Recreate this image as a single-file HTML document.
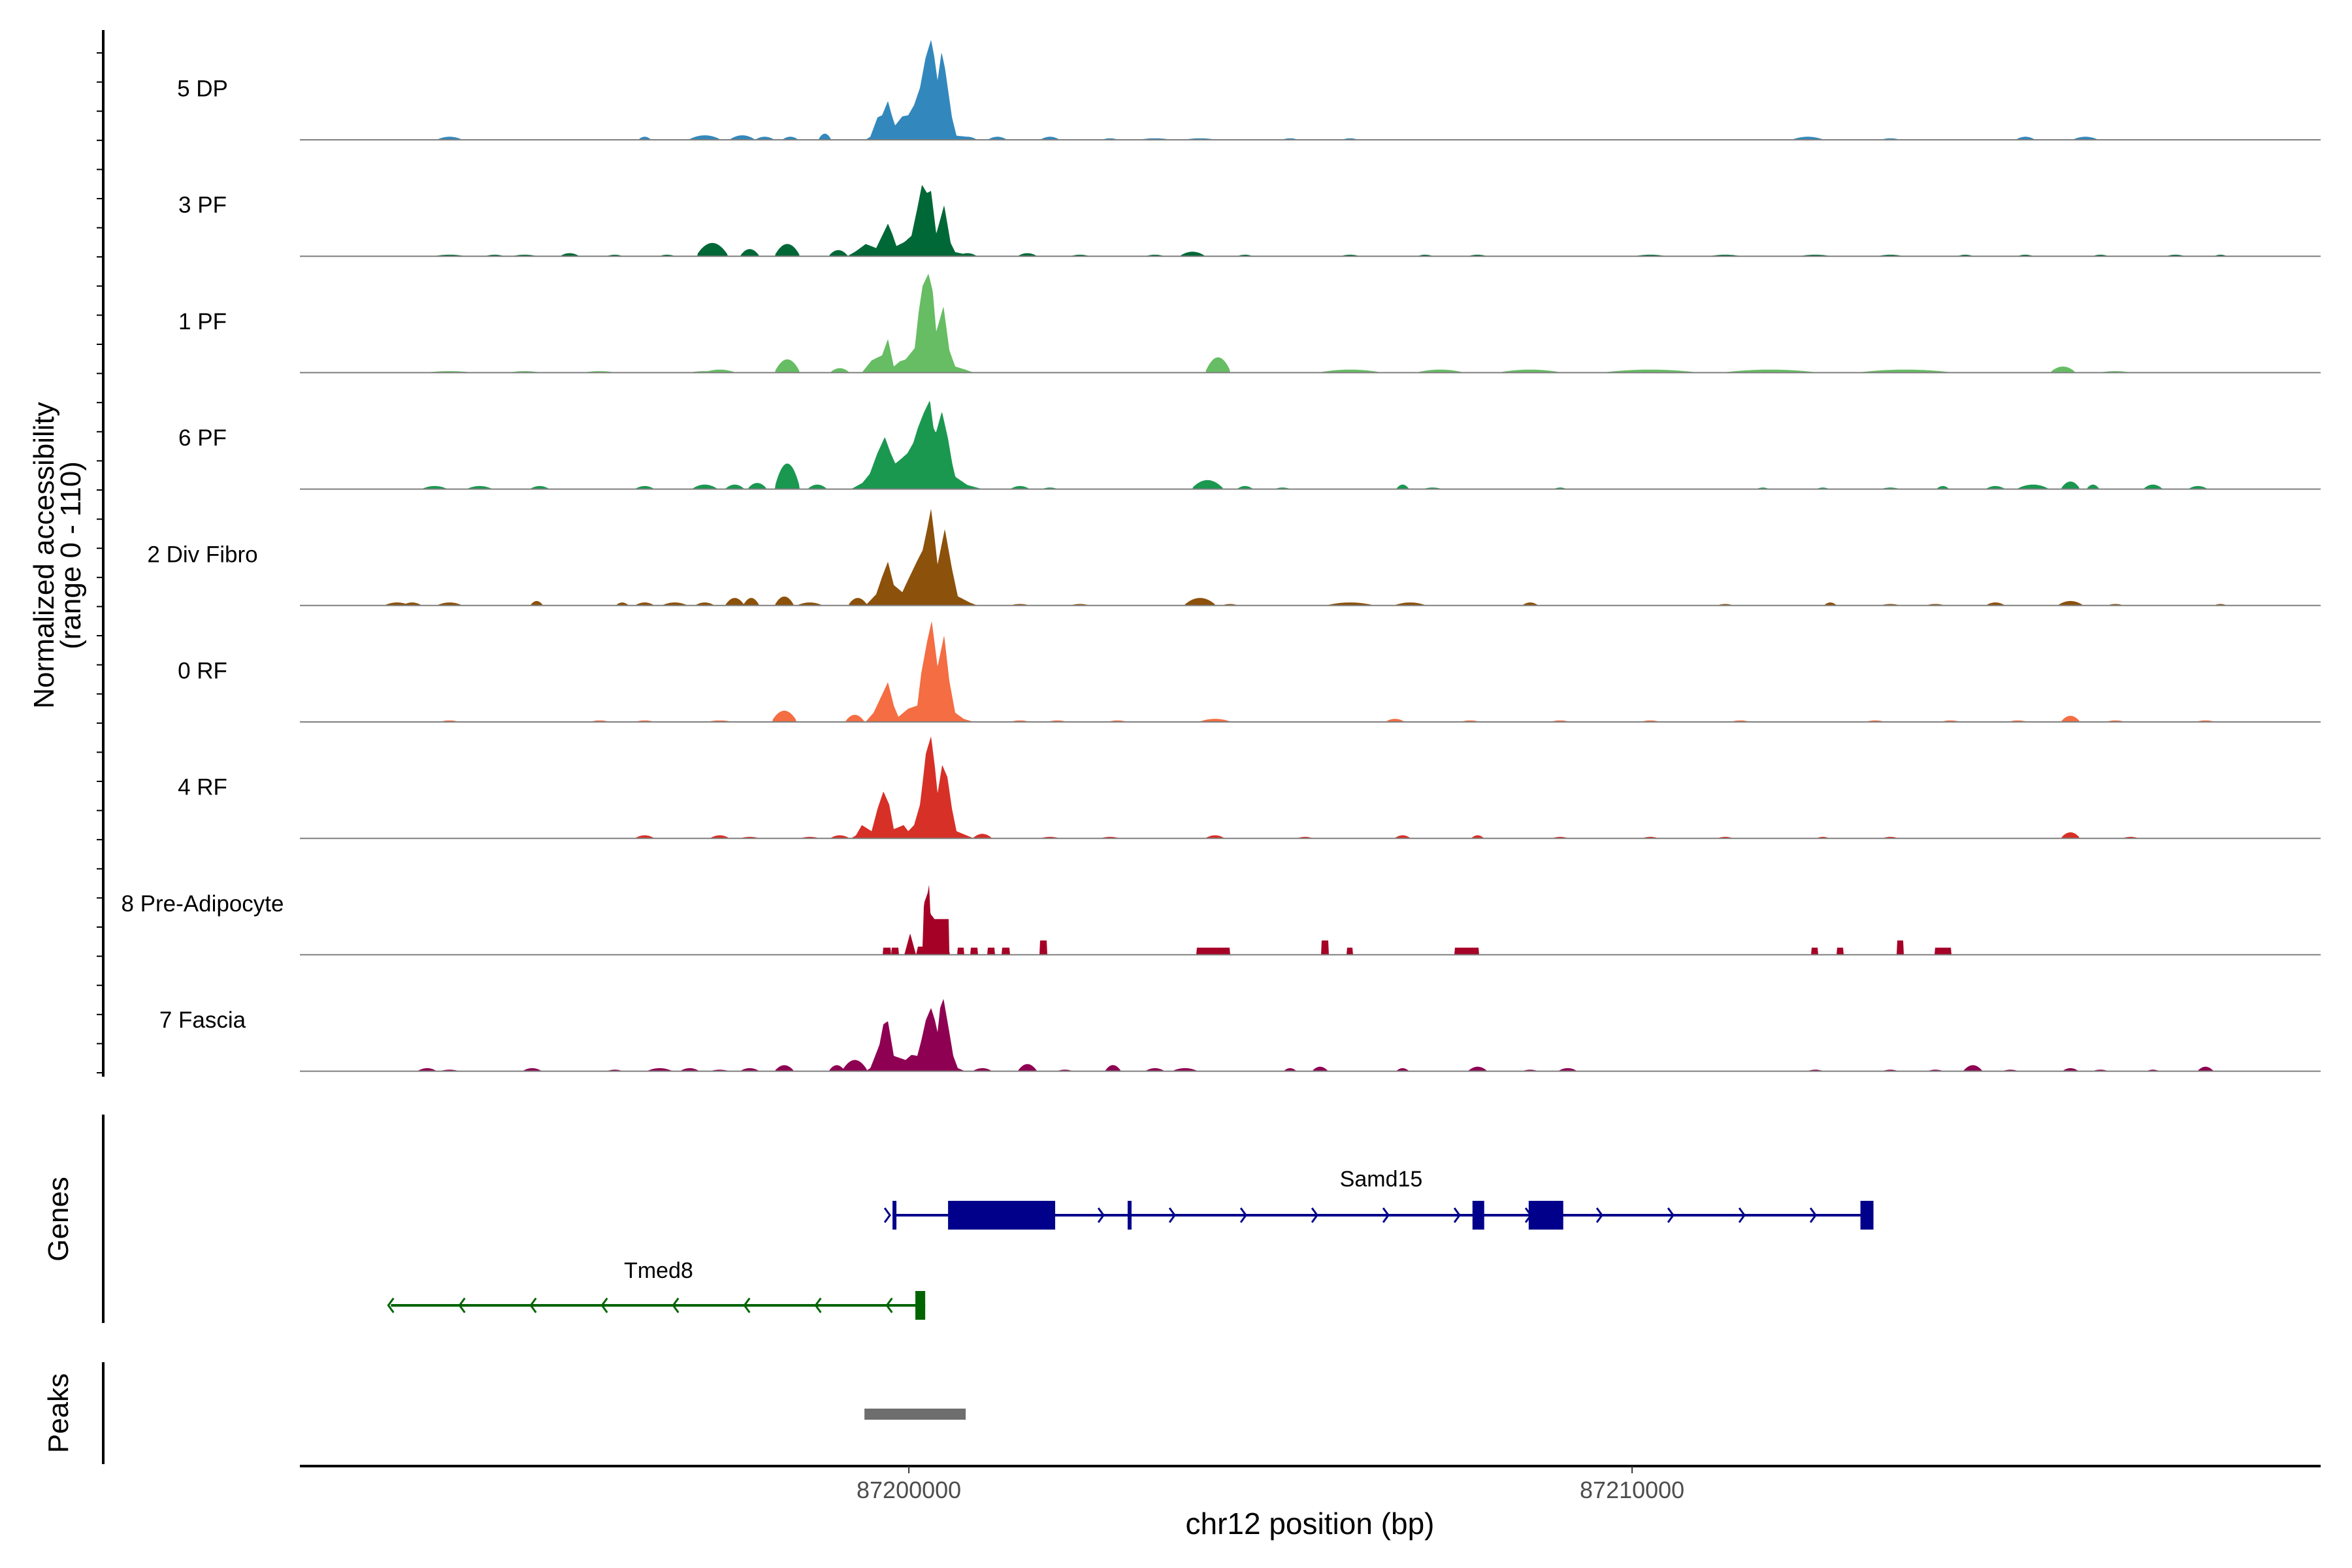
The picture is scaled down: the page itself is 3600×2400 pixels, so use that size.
<!DOCTYPE html>
<html><head><meta charset="utf-8"><style>
html,body{margin:0;padding:0;background:#fff;}
svg{display:block;font-family:"Liberation Sans",Arial,sans-serif;}
</style></head><body>
<svg id="chart" width="3600" height="2400" viewBox="0 0 3600 2400" xmlns="http://www.w3.org/2000/svg">
<g id="tracks"></g>
<g id="yaxis"></g>
<text transform="translate(82,850) rotate(-90)" text-anchor="middle" font-size="44" fill="#000">Normalized accessibility</text>
<text transform="translate(123,850) rotate(-90)" text-anchor="middle" font-size="44" fill="#000">(range 0 - 110)</text>
<g id="genes"></g>
<line x1="158" y1="1706" x2="158" y2="2025" stroke="#000" stroke-width="4"/>
<text transform="translate(104,1866) rotate(-90)" text-anchor="middle" font-size="44" fill="#000">Genes</text>
<g id="peaks"></g>
<line x1="158" y1="2085" x2="158" y2="2241" stroke="#000" stroke-width="4"/>
<text transform="translate(104,2163) rotate(-90)" text-anchor="middle" font-size="44" fill="#000">Peaks</text>
<g id="xaxis"></g>
<text x="2005" y="2348" text-anchor="middle" font-size="46" fill="#000">chr12 position (bp)</text>
</svg>
<script>
// ---- data (bp offsets relative to ORIGIN_BP, values in normalized accessibility 0-110) ----
const ORIGIN_BP = 87200000;
const X_START_BP = 87191580;
const X_END_BP = 87219520;
const Y_MAX = 110;
const trackNames = ["5 DP","3 PF","1 PF","6 PF","2 Div Fibro","0 RF","4 RF","8 Pre-Adipocyte","7 Fascia"];
const trackColors = ["#3288bd","#006837","#66bd63","#1a9850","#8c510a","#f46d43","#d73027","#a50026","#8e0152"];
const xTickValues = [87200000, 87210000];
const xTickLabels = ["87200000","87210000"];

const dp5CorePos = [-600,-533,-433,-370,-289,-240,-190,-90,-10,72,154,230,307,350,397,452,500,596,659,800,900];
const dp5CoreVal = [0,3,22,24,38,25,14,23,24,34,51,80,98,82,58,86,70,22,4,3,0];
const dp5BumpPos = [-6350,-3652,-2822,-2303,-1992,-1639,-1162,809,1224,1951,2781,3403,4026,5271,6101,12429,13571,15438,16268];
const dp5BumpVal = [3,3,4.4,4.4,3,3,6,3,3,3,1.5,1.5,1.5,1.5,1.5,3,1.5,3,3];
const dp5BumpHw  = [166,83,208,166,125,104,83,125,125,125,104,208,208,104,104,208,125,125,166];

const pf3CorePos = [-850,-731,-596,-452,-370,-289,-230,-172,-60,36,117,181,250,307,379,430,488,578,641,780,900];
const pf3CoreVal = [0,5,12,8,20,32,22,10,14,20,47,70,62,64,22,35,50,13,4,2,0];
const pf3BumpPos = [-6350,-5727,-5312,-4690,-4067,-3341,-2718,-2200,-1681,-975,809,1639,2366,3403,3922,4648,6101,7138,7864,10251,11288,12533,13571,14608,15438,16476,17513,18136];
const pf3BumpVal = [1.5,1.5,1.5,3,1.5,1.5,13,7,12,6,3,3,1.5,1.5,4.4,1.5,1.5,1.5,1.5,1.5,1.5,1.5,1.5,1.5,1.5,1.5,1.5,1.5];
const pf3BumpHw  = [208,125,166,125,104,104,208,125,166,125,125,125,125,125,166,104,125,104,125,208,208,208,166,104,104,104,125,83];

const pf1CorePos = [-650,-515,-370,-289,-208,-126,-45,81,135,190,271,330,379,479,560,641,780,900];
const pf1CoreVal = [0,12,17,33,6,11,13,24,59,85,97,80,40,65,22,6,3,0];
const pf1BumpPos = [-6350,-5312,-4275,-2822,-2615,-1681,-955,4275,6101,7346,8591,10251,11911,13778,15957,16683];
const pf1BumpVal = [1.5,1.5,1.5,1.5,3,13,4.4,15,3,3,3,3,3,3,6,1.5];
const pf1BumpHw  = [311,208,208,208,208,166,125,166,415,311,415,623,623,623,166,208];

const pf6CorePos = [-800,-643,-540,-436,-332,-250,-187,-100,-21,60,125,208,291,340,374,457,540,600,643,809,1017];
const pf6CoreVal = [0,6,15,35,51,35,25,30,35,45,60,75,87,60,55,76,50,25,12,4,0];
const pf6BumpPos = [-6557,-5935,-5105,-3652,-2822,-2407,-2096,-1681,-1266,1536,1951,4129,4648,5167,6827,7242,9006,11807,12637,13571,14297,15023,15542,16061,16372,17202,17824];
const pf6BumpVal = [3,3,3,3,4.4,4.4,6,25,4.4,3,1.5,8.8,3,1.5,4.4,1.5,1.5,1.5,1.5,1.5,3,3,4.4,7.4,4.4,4.4,3];
const pf6BumpHw  = [166,166,125,125,166,125,125,166,125,125,104,208,104,104,83,125,83,83,83,125,83,125,208,125,83,125,125];

const df2CorePos = [-600,-452,-370,-289,-208,-90,-45,117,190,253,307,350,397,497,596,677,840,950];
const df2CoreVal = [0,11,28,43,20,13,20,44,54,75,95,70,40,75,36,9,3,0];
const df2BumpPos = [-7076,-6868,-6350,-5146,-3963,-3652,-3237,-2822,-2407,-2179,-1722,-1370,-706,1536,2366,4026,4441,6101,6931,8591,11288,12741,13571,14193,15023,16061,16683,18136];
const df2BumpVal = [3,3,3,4.4,3,3,3,3,7.4,7.4,8.8,3,7.4,1.5,1.5,7.4,1.5,3,3,3,1.5,3,1.5,1.5,3,4.4,1.5,1.5];
const df2BumpHw  = [166,125,166,83,83,125,166,125,125,104,125,166,125,125,125,208,104,311,208,104,104,83,125,125,125,166,104,83];

const rf0CorePos = [-600,-488,-388,-289,-208,-144,-9,117,172,253,316,360,397,488,560,641,759,900];
const rf0CoreVal = [0,9,24,39,16,5,13,16,48,79,99,75,54,85,40,9,3,0];
const rf0BumpPos = [-6350,-4275,-3652,-2615,-1722,-747,1536,2054,2884,4233,6723,7761,9006,10251,11496,13363,14401,15334,16061,16683,17928];
const rf0BumpVal = [1.5,1.5,1.5,1.5,11,7,1.5,1.5,1.5,3,3,1.5,1.5,1.5,1.5,1.5,1.5,1.5,6,1.5,1.5];
const rf0BumpHw  = [125,125,125,166,166,125,125,125,125,208,125,125,125,125,125,125,125,125,125,125,125];

const rf4CorePos = [-800,-731,-650,-515,-433,-352,-271,-208,-72,-9,72,154,199,235,307,360,397,461,533,596,659,795,900];
const rf4CoreVal = [0,3,13,7,29,46,33,9,13,7,13,33,60,83,100,70,44,72,60,29,7,3,0];
const rf4BumpPos = [-3652,-2615,-2200,-1370,-955,1017,1951,2781,4233,5478,6827,7864,9006,10251,11288,12637,13571,16061,16891];
const rf4BumpVal = [3,3,1.5,1.5,3,4.4,1.5,1.5,3,1.5,3,3,1.5,1.5,1.5,1.5,1.5,5.9,1.5];
const rf4BumpHw  = [125,125,125,125,125,125,125,125,125,104,104,83,104,104,104,83,104,125,104];

const pa8CorePos = [-63,18,99,126,154,190,208,262,280,298,334,352,551,560];
const pa8CoreVal = [0,21,0,8,8,8,50,61,69,40,37,35,35,0];
const pa8BlockStart = [-361,-244,668,849,1084,1282,1806,3982,5707,6059,7549,12479,12832,13663,14186];
const pa8BlockEnd   = [-253,-144,759,948,1183,1391,1914,4443,5806,6140,7883,12570,12922,13753,14412];
const pa8BlockVal   = [7,7,7,7,7,7,14,7,14,7,7,7,7,14,7];

const fa7CorePos = [-600,-533,-488,-406,-352,-289,-208,-45,36,117,172,235,307,360,397,433,479,560,614,677,780];
const fa7CoreVal = [0,3,11,26,46,49,15,11,16,15,30,50,62,50,38,62,71,38,15,3,0];
const fa7BumpPos = [-6661,-6350,-5208,-4067,-3445,-3030,-2615,-2200,-1722,-996,-747,1017,1639,2158,2822,3403,3818,5271,5686,6827,7864,8591,9109,12533,13571,14193,14712,15231,16061,16476,17202,17928];
const fa7BumpVal = [3,1.5,3,1.5,3,3,1.5,3,5.9,5.9,11,3,7,1.5,6,3,3,3,4.4,3,4.4,1.5,3,1.5,1.5,1.5,5.9,1.5,3,1.5,1.5,4.4];
const fa7BumpHw  = [125,125,125,104,166,125,125,125,125,104,166,125,125,104,104,125,166,83,104,83,125,104,125,104,104,104,125,104,104,104,83,104];

const coreP = [dp5CorePos,pf3CorePos,pf1CorePos,pf6CorePos,df2CorePos,rf0CorePos,rf4CorePos,pa8CorePos,fa7CorePos];
const coreV = [dp5CoreVal,pf3CoreVal,pf1CoreVal,pf6CoreVal,df2CoreVal,rf0CoreVal,rf4CoreVal,pa8CoreVal,fa7CoreVal];
const bumpP = [dp5BumpPos,pf3BumpPos,pf1BumpPos,pf6BumpPos,df2BumpPos,rf0BumpPos,rf4BumpPos,[],fa7BumpPos];
const bumpV = [dp5BumpVal,pf3BumpVal,pf1BumpVal,pf6BumpVal,df2BumpVal,rf0BumpVal,rf4BumpVal,[],fa7BumpVal];
const bumpW = [dp5BumpHw,pf3BumpHw,pf1BumpHw,pf6BumpHw,df2BumpHw,rf0BumpHw,rf4BumpHw,[],fa7BumpHw];

// genes (bp offsets)
const samd15Start = -226, samd15End = 13337;
const samd15ExonStart = [-226,542,3025,7793,8570,13157];
const samd15ExonEnd   = [-181,2023,3079,7955,9048,13337];
const tmed8Start = -7161, tmed8End = 226;
const tmed8ExonStart = [90];
const tmed8ExonEnd = [226];
const peakStart = [-614];
const peakEnd = [786];

// ---- layout ----
const NS = "http://www.w3.org/2000/svg";
const PX0 = 459, PX1 = 3552;
const xScale = bp => PX0 + (bp - X_START_BP) / (X_END_BP - X_START_BP) * (PX1 - PX0);
const xOff = off => xScale(ORIGIN_BP + off);
const TRACK_H = 172, BASE0 = 214, STEP = 178.2;
function mk(tag, attrs, parent){ const e=document.createElementNS(NS,tag); for(const k in attrs) e.setAttribute(k,attrs[k]); parent.appendChild(e); return e; }

function interp(P,V,o){
  if(!P.length || o<=P[0] || o>=P[P.length-1]) return 0;
  for(let i=1;i<P.length;i++){ if(o<=P[i]){ const t=(o-P[i-1])/(P[i]-P[i-1]||1); return V[i-1]+t*(V[i]-V[i-1]); } }
  return 0;
}
function valueAt(ti,o){
  let v = interp(coreP[ti],coreV[ti],o);
  const bp=bumpP[ti], bv=bumpV[ti], bw=bumpW[ti];
  for(let i=0;i<bp.length;i++){ const d=Math.abs(o-bp[i])/bw[i]; if(d<1) v=Math.max(v,bv[i]*(1-d*d*0.85)); }
  if(ti===7){ for(let i=0;i<pa8BlockStart.length;i++){ if(o>=pa8BlockStart[i]&&o<=pa8BlockEnd[i]) v=Math.max(v,pa8BlockVal[i]); } }
  return v;
}

const tracks=document.getElementById('tracks');
trackNames.forEach((name,ti)=>{
  const base = BASE0 + STEP*ti;
  const g = mk('g',{},tracks);
  
  
  let d = `M${PX0},${base}`;
  for(let x=PX0;x<=PX1;x++){
    const bp = X_START_BP + (x-PX0)/(PX1-PX0)*(X_END_BP-X_START_BP);
    const v = Math.min(Y_MAX, valueAt(ti,bp-ORIGIN_BP));
    d += `L${x},${(base - v/Y_MAX*TRACK_H).toFixed(1)}`;
  }
  d += `L${PX1},${base}Z`;
  const p = mk('path',{d:d,fill:trackColors[ti],stroke:'none'},g);
  
  
  const bl = mk('line',{x1:PX0,x2:PX1,y1:base,y2:base,stroke:'#7f7f7f','stroke-width':2},g);
  
  
  const t = mk('text',{x:310,y:base-78,'text-anchor':'middle','dominant-baseline':'central','font-size':35,fill:'#000'},g);
  t.textContent = name;
  
  
});

// y axis with ticks
const ya=document.getElementById('yaxis');
const yl = mk('line',{x1:158,x2:158,y1:46,y2:1648,stroke:'#000','stroke-width':4},ya);


for(let i=0;i<36;i++){
  const y = 81 + i*(1642-81)/35;
  const tk = mk('line',{x1:148,x2:158,y1:y,y2:y,stroke:'#000','stroke-width':2},ya);
  
  
}

// genes
const gg=document.getElementById('genes');
function chevrons(g,x0,x1,y,color,dir){
  for(let x=x0; x<=x1-5; x+=109){
    const c = mk('path',{d: dir>0 ? `M${x-4},${y-11}L${x+4},${y}L${x-4},${y+11}` : `M${x+4},${y-11}L${x-4},${y}L${x+4},${y+11}`, fill:'none', stroke:color,'stroke-width':3},g);
    
    
  }
}
function drawGene(name,start,end,es,ee,y,color,dir,labelX,labelY){
  const g = mk('g',{},gg);
  
  
  const l = mk('line',{x1:xOff(start),x2:xOff(end),y1:y,y2:y,stroke:color,'stroke-width':4},g);
  
  
  chevrons(g, dir>0 ? xOff(start)-8 : xOff(start), xOff(end), y, color, dir);
  for(let i=0;i<es.length;i++){
    const r = mk('rect',{x:xOff(es[i]),y:y-22,width:Math.max(6,xOff(ee[i])-xOff(es[i])),height:44,fill:color},g);
    
    
  }
  const t = mk('text',{x:labelX,y:labelY,'text-anchor':'middle','font-size':34,fill:'#000'},g);
  t.textContent = name;
  
  
}
drawGene('Samd15',samd15Start,samd15End,samd15ExonStart,samd15ExonEnd,1860,'#00008b',1,2114,1816);
drawGene('Tmed8',tmed8Start,tmed8End,tmed8ExonStart,tmed8ExonEnd,1998,'#006400',-1,1008,1956);

// peaks
const pg=document.getElementById('peaks');
for(let i=0;i<peakStart.length;i++){
  const r = mk('rect',{x:xOff(peakStart[i]),y:2156,width:xOff(peakEnd[i])-xOff(peakStart[i]),height:17,fill:'#6e6e6e'},pg);
  
  
}

// x axis
const xa=document.getElementById('xaxis');
const xl = mk('line',{x1:PX0,x2:PX1,y1:2244,y2:2244,stroke:'#000','stroke-width':4},xa);


xTickValues.forEach((v,i)=>{
  const x = xScale(v);
  const tk = mk('line',{x1:x,x2:x,y1:2244,y2:2255,stroke:'#333','stroke-width':2},xa);
  
  
  const t = mk('text',{x:x,y:2293,'text-anchor':'middle','font-size':36,fill:'#4d4d4d'},xa);
  t.textContent = xTickLabels[i];
  
  
});
</script>
</body></html>
